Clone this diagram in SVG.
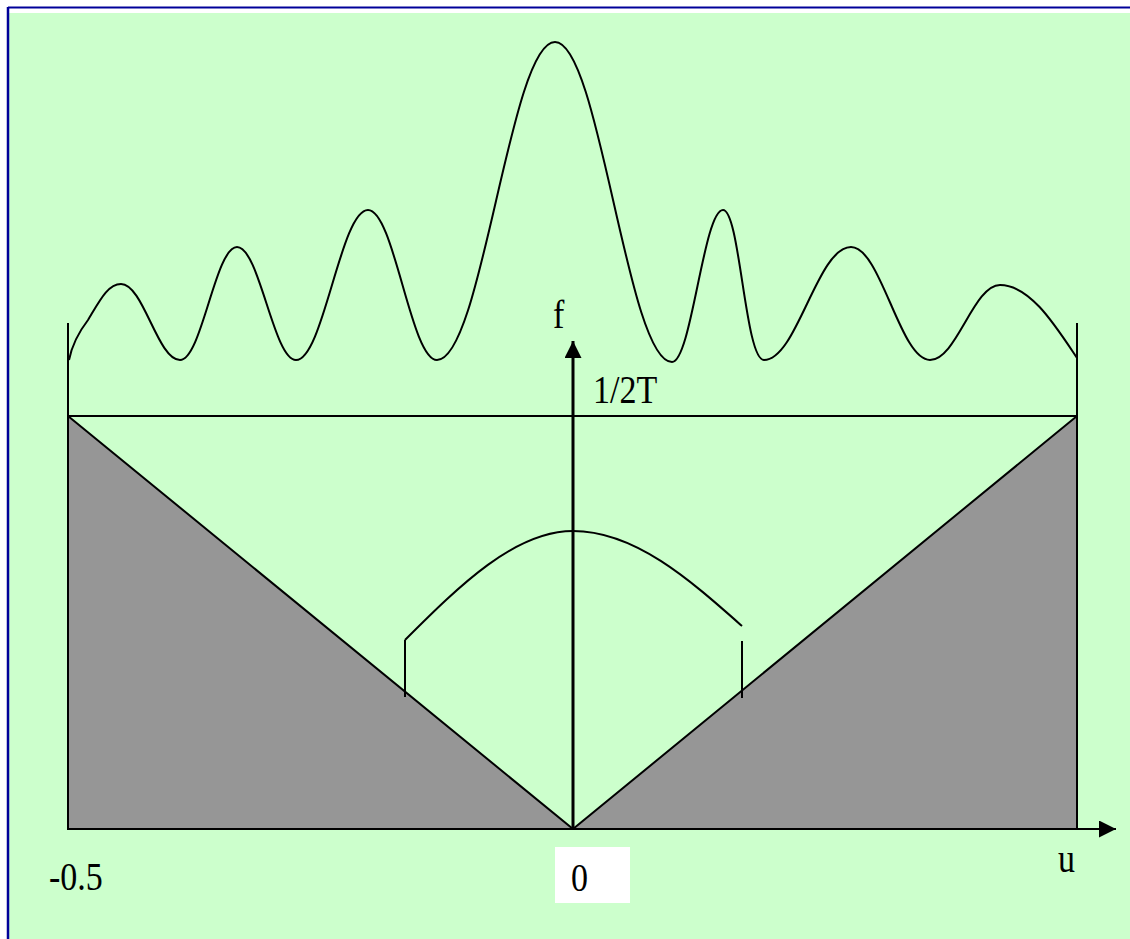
<svg xmlns="http://www.w3.org/2000/svg" width="1130" height="939" viewBox="0 0 1130 939">
<defs>
<style>
.ln{stroke:#000;stroke-width:2;fill:none}
.tx{font-family:"Liberation Serif","Times New Roman",serif;font-size:34px;fill:#000}
.gray{fill:#969696;stroke:#000;stroke-width:2}
</style>
<marker id="ah" markerWidth="18" markerHeight="18" refX="17" refY="8.5" orient="auto" markerUnits="userSpaceOnUse">
<path d="M0,0 L17,8.5 L0,17 Z" fill="#000"/>
</marker>
</defs>
<rect x="0" y="0" width="1130" height="939" fill="#fff"/>
<rect x="9" y="13" width="1121" height="926" fill="#ccffcc"/>
<g id="border">
<line x1="8" y1="7.5" x2="1130" y2="7.5" stroke="#000099" stroke-width="2"/>
<line x1="8" y1="7" x2="8" y2="939" stroke="#000099" stroke-width="2.5"/>
</g>
<g id="triangles">
<polygon class="gray" points="68,416 573,829 68,829"/>
<polygon class="gray" points="1077,416 573,829 1077,829"/>
</g>
<g id="connectors">
<line class="ln" x1="68" y1="416" x2="1077" y2="416"/>
<line class="ln" x1="68" y1="323" x2="68" y2="829"/>
<line class="ln" x1="1077" y1="323" x2="1077" y2="829"/>
<line class="ln" x1="68" y1="829" x2="1116" y2="829" marker-end="url(#ah)"/>
<line x1="573" y1="829" x2="573" y2="341" stroke="#000" stroke-width="3" marker-end="url(#ah)"/>
<line class="ln" x1="405" y1="640" x2="405" y2="697"/>
<line class="ln" x1="742" y1="641" x2="742" y2="698"/>
</g>
<g id="wave">
<path class="ln" d="M69,360 C72,345 78,333 88,320 C100,300 108,284 121,284 C143.4,284 157.6,360 180,360 C201.7,360 215.3,247 237,247 C259.4,247 273.6,360 296,360 C323.4,360 340.6,210 368,210 C394.2,210 410.8,360 437,360 C481.8,360 510.2,42 555,42 C599.5,42 627.5,362 672,362 C691.4,362 703.6,210 723,210 C740,210 745,360 764,360 C797,360 817.2,247 851,247 C881,247 900,360 930,360 C956.6,360 973.4,285 1000,285 C1030,285 1055,325 1077,358"/>
</g>
<g id="arc">
<path class="ln" d="M405,640 C460,585 515,531 573,531 C635,531 690,580 742,626"/>
</g>
<g id="labels">
<text class="tx" transform="translate(553,328) scale(1,1.16)">f</text>
<text class="tx" transform="translate(593,403) scale(1,1.16)">1/2T</text>
<text class="tx" transform="translate(1058,872) scale(1,1.16)">u</text>
<text class="tx" transform="translate(49,890) scale(1,1.16)">-0.5</text>
<rect x="555" y="847" width="75" height="56" fill="#fff"/>
<text class="tx" transform="translate(571,891) scale(1,1.16)">0</text>
</g>
</svg>
